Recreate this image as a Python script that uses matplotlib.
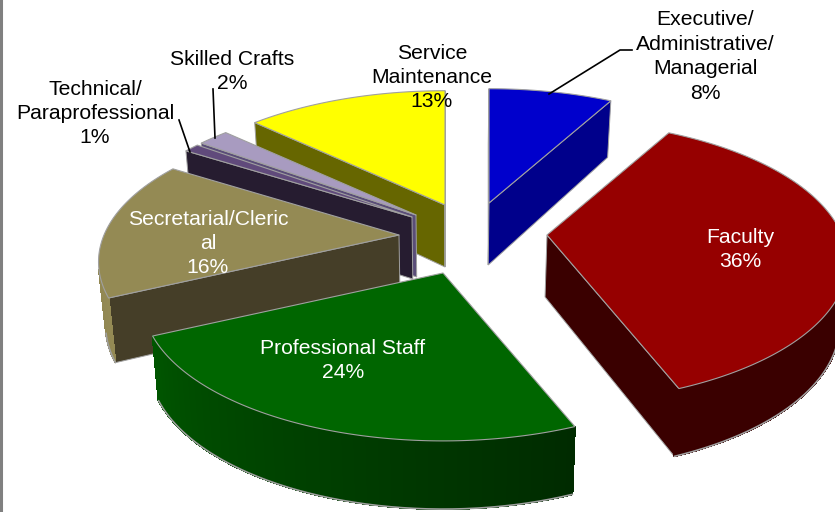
import numpy as np
import matplotlib
matplotlib.use("Agg")
import matplotlib.pyplot as plt
from matplotlib.colors import to_rgb

plt.rcParams["font.family"] = ["Liberation Sans", "DejaVu Sans"]

# slices, clockwise from 12 o'clock
labels = ["Executive/\nAdministrative/\nManagerial\n8%", "Faculty\n36%",
          "Professional Staff\n24%", "Secretarial/Cleric\nal\n16%",
          "Technical/\nParaprofessional\n1%", "Skilled Crafts\n2%",
          "Service\nMaintenance\n13%"]
values = [8, 36, 24, 16, 1, 2, 13]

# apex of each exploded slice on the page
apex_x = [489, 547, 443, 399, 412, 416, 445]
apex_y = [203, 235, 273, 235, 217, 215, 205]

top_colors = ["#0000CC", "#960000", "#006600", "#948A54", "#604A7B", "#A89BC0", "#FFFF00"]
face_colors = ["#00008B", "#3A0000", "#003000", "#453E28", "#261C30", "#5A4D78", "#666600"]
rim_start = ["#00008B", "#3A0000", "#002B00", "#948A54", "#261C30", "#5A4D78", "#666600"]
rim_end = ["#00008B", "#3A0000", "#005500", "#8A8050", "#261C30", "#5A4D78", "#666600"]
text_colors = ["black", "white", "white", "white", "black", "black", "black"]
label_x = [705, 740, 343, 208, 95, 232, 432]
label_y = [56.5, 249.5, 360.5, 243.5, 113.5, 71.5, 77.5]

# perspective of the tilted pie
size_x, size_y, persp = 295, 136, 0.19
depth = 62


def project(theta, r, i):
    # theta in degrees clockwise from the top
    t = np.radians(theta)
    w = 1 + persp * r * np.cos(t)
    return (apex_x[i] + size_x * r * np.sin(t) / w,
            apex_y[i] - size_y * r * np.cos(t) / w)


def lower(x, y, theta, r):
    # same point on the bottom of the slab
    d = depth * (1 - 0.1 * r * np.cos(np.radians(theta)))
    return 450 + (x - 450) * 0.98, y + d


def area(xs, ys):
    return 0.5 * np.sum(np.array(xs) * np.roll(ys, -1) - np.roll(xs, -1) * np.array(ys))


def quad(ax, p1, p2, p3, p4, color, edge=None, smooth=True):
    xs = [p1[0], p2[0], p3[0], p4[0]]
    ys = [p1[1], p2[1], p3[1], p4[1]]
    # only faces turned to the viewer
    if area(xs, ys) < 0:
        ax.fill(xs, ys, facecolor=color, edgecolor=edge or color, lw=0.7, antialiased=smooth)
        return True
    return False


fig = plt.figure(figsize=(8.35, 5.12), dpi=100)
ax = fig.add_axes([0, 0, 1, 1])
ax.set_xlim(0, 835)
ax.set_ylim(512, 0)
ax.axis("off")

edges = np.cumsum([0] + values) * 3.6
draw_order = [0, 6, 5, 4, 3, 1, 2]
halo = "#A0A0A0"

for i in draw_order:
    start, end = edges[i], edges[i + 1]
    a_top = project(0, 0, i)
    a_bot = lower(*a_top, 0, 0)
    s_top = project(start, 1, i)
    s_bot = lower(*s_top, start, 1)
    e_top = project(end, 1, i)
    e_bot = lower(*e_top, end, 1)

    # cut faces
    quad(ax, a_top, s_top, s_bot, a_bot, face_colors[i], halo)
    quad(ax, e_top, a_top, a_bot, e_bot, face_colors[i], halo)

    # outer wall, shaded along the arc
    th = np.linspace(start, end, max(int(end - start) * 2, 4) + 1)
    c0, c1 = np.array(to_rgb(rim_start[i])), np.array(to_rgb(rim_end[i]))
    bot_x, bot_y = [], []
    for k in range(len(th) - 1):
        p1 = project(th[k], 1, i)
        p2 = project(th[k + 1], 1, i)
        q1 = lower(*p1, th[k], 1)
        q2 = lower(*p2, th[k + 1], 1)
        f = k / (len(th) - 1)
        if quad(ax, p1, p2, q2, q1, tuple(c0 + (c1 - c0) * f), smooth=False):
            bot_x += [q1[0], q2[0]]
            bot_y += [q1[1], q2[1]]
    if bot_x:
        ax.plot(bot_x, bot_y, color=halo, lw=1.2, solid_capstyle="round")

    # top
    px, py = project(th, 1, i)
    ax.fill(np.r_[a_top[0], px], np.r_[a_top[1], py], facecolor=top_colors[i],
            edgecolor=halo, lw=0.8, joinstyle="round")

# leader lines
ax.plot([549, 620, 632], [94, 50, 50], color="black", lw=1.2)
ax.plot([213, 215], [89, 138], color="black", lw=1.2)
ax.plot([179, 190], [120, 152], color="black", lw=1.2)

for i in range(len(labels)):
    ax.text(label_x[i], label_y[i], labels[i], color=text_colors[i], fontsize=15.2,
            ha="center", va="center", linespacing=1.36, multialignment="center")

# grey frame line on the left
ax.plot([1, 1], [0, 512], color="#808080", lw=2.2, clip_on=False)

fig.savefig("out.png", dpi=100)
